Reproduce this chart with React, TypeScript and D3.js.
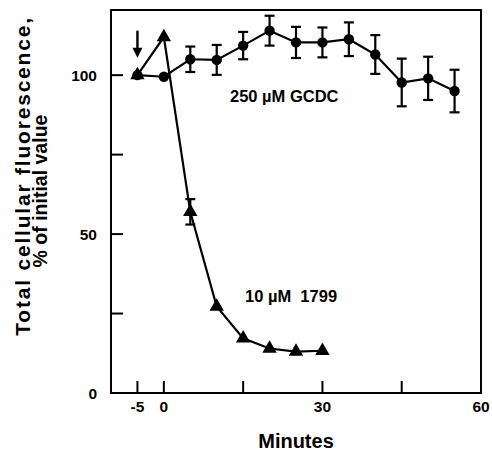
import React, { useEffect, useRef } from "react";
import * as d3 from "d3";

// GCDC series (circles), mean and error
const gcdcMinutes = [-5, 0, 5, 10, 15, 20, 25, 30, 35, 40, 45, 50, 55];
const gcdcValues = [100, 99.5, 105, 104.8, 109.3, 114, 110.3, 110.3, 111.3, 106.5, 97.7, 99, 95];
const gcdcErrors = [0, 0, 4, 4.7, 4.3, 4.7, 4.9, 4.7, 5.3, 6.1, 7.5, 6.8, 6.7];

// 1799 series (triangles)
const cmpMinutes = [-5, 0, 5, 10, 15, 20, 25, 30];
const cmpValues = [100, 112, 57, 27.2, 17.2, 14, 13, 13.3];
const cmpErrors = [0, 0, 4, 0, 0, 0, 0, 0];

const xTicks = [-5, 0, 15, 30, 45, 60];
const xTickLabels = ["-5", "0", "", "30", "", "60"];
const yTicks = [0, 25, 50, 75, 100];
const yTickLabels = ["0", "", "50", "", "100"];

// arrow marking the addition time
const arrowMinute = -5;
const arrowFrom = 114;
const arrowTo = 105.5;

const W = 492;
const H = 453;
const FONT = "'Liberation Sans', Arial, sans-serif";

export default function App() {
  const ref = useRef<SVGSVGElement | null>(null);

  useEffect(() => {
    document.body.style.margin = "0";
    const svg = d3.select(ref.current);
    svg.selectAll("*").remove();

    const left = 111, right = 481, top = 10, bottom = 393;
    const x = d3.scaleLinear().domain([-10, 60]).range([left, right]);
    const y = d3.scaleLinear().domain([0, 120.5]).range([bottom, top]);

    const g = svg.append("g");

    // frame
    g.append("rect")
      .attr("x", left).attr("y", top)
      .attr("width", right - left).attr("height", bottom - top)
      .attr("fill", "none").attr("stroke", "#000").attr("stroke-width", 2);

    // inward ticks
    g.selectAll(".xt").data(xTicks).enter().append("line")
      .attr("x1", d => x(d)).attr("x2", d => x(d))
      .attr("y1", bottom).attr("y2", bottom - 12)
      .attr("stroke", "#000").attr("stroke-width", 2);
    g.selectAll(".yt").data(yTicks).enter().append("line")
      .attr("x1", left).attr("x2", left + 12)
      .attr("y1", d => y(d)).attr("y2", d => y(d))
      .attr("stroke", "#000").attr("stroke-width", 2);

    g.selectAll(".xl").data(xTicks).enter().append("text")
      .attr("x", d => x(d)).attr("y", bottom + 19)
      .attr("text-anchor", "middle")
      .attr("font-family", FONT).attr("font-weight", "bold").attr("font-size", 15.5)
      .text((d, i) => xTickLabels[i]);
    g.selectAll(".yl").data(yTicks).enter().append("text")
      .attr("x", left - 14).attr("y", d => y(d) + 5.5)
      .attr("text-anchor", "end")
      .attr("font-family", FONT).attr("font-weight", "bold").attr("font-size", 15.5)
      .text((d, i) => yTickLabels[i]);

    // axis titles
    g.append("text")
      .attr("x", x(25)).attr("y", 448)
      .attr("text-anchor", "middle")
      .attr("font-family", FONT).attr("font-weight", "bold").attr("font-size", 20)
      .text("Minutes");
    g.append("text")
      .attr("transform", "translate(30,176) rotate(-90)")
      .attr("text-anchor", "middle")
      .attr("font-family", FONT).attr("font-weight", "bold").attr("font-size", 21)
      .attr("letter-spacing", 1.8)
      .text("Total cellular fluorescence,");
    g.append("text")
      .attr("transform", "translate(47,191) rotate(-90)")
      .attr("text-anchor", "middle")
      .attr("font-family", FONT).attr("font-weight", "bold").attr("font-size", 19.5)
      .text("% of initial value");

    const line = d3.line<[number, number]>().x(d => x(d[0])).y(d => y(d[1]));

    const drawSeries = (mins: number[], vals: number[], errs: number[], shape: "circle" | "triangle") => {
      const pts = mins.map((m, i) => [m, vals[i]] as [number, number]);
      g.append("path").attr("d", line(pts))
        .attr("fill", "none").attr("stroke", "#000").attr("stroke-width", 2.2);
      mins.forEach((m, i) => {
        if (errs[i] > 0) {
          const cx = x(m);
          g.append("line").attr("x1", cx).attr("x2", cx)
            .attr("y1", y(vals[i] - errs[i])).attr("y2", y(vals[i] + errs[i]))
            .attr("stroke", "#000").attr("stroke-width", 2.2);
          [vals[i] - errs[i], vals[i] + errs[i]].forEach(v => {
            g.append("line").attr("x1", cx - 5).attr("x2", cx + 5)
              .attr("y1", y(v)).attr("y2", y(v))
              .attr("stroke", "#000").attr("stroke-width", 2.2);
          });
        }
      });
      const sym = d3.symbol()
        .type(shape === "circle" ? d3.symbolCircle : d3.symbolTriangle)
        .size(shape === "circle" ? 85 : 90);
      g.selectAll(null).data(pts).enter().append("path")
        .attr("d", sym)
        .attr("transform", d => `translate(${x(d[0])},${y(d[1])})`)
        .attr("fill", "#000");
    };

    drawSeries(cmpMinutes, cmpValues, cmpErrors, "triangle");
    drawSeries(gcdcMinutes, gcdcValues, gcdcErrors, "circle");

    // arrow
    const ax = x(arrowMinute);
    g.append("line").attr("x1", ax).attr("x2", ax)
      .attr("y1", y(arrowFrom)).attr("y2", y(arrowTo) - 6)
      .attr("stroke", "#000").attr("stroke-width", 2.4);
    g.append("path")
      .attr("d", `M${ax - 5},${y(arrowTo) - 10} L${ax + 5},${y(arrowTo) - 10} L${ax},${y(arrowTo)} Z`)
      .attr("fill", "#000");

    // series labels
    g.append("text")
      .attr("x", 230).attr("y", 102)
      .attr("font-family", FONT).attr("font-weight", "bold").attr("font-size", 16.5)
      .text("250 \u00B5M GCDC");
    g.append("text")
      .attr("x", 245).attr("y", 302)
      .attr("font-family", FONT).attr("font-weight", "bold").attr("font-size", 16.5)
      .text("10 \u00B5M\u00A0 1799");
  }, []);

  return <svg ref={ref} width={W} height={H} style={{ display: "block", background: "#fff" }} />;
}
